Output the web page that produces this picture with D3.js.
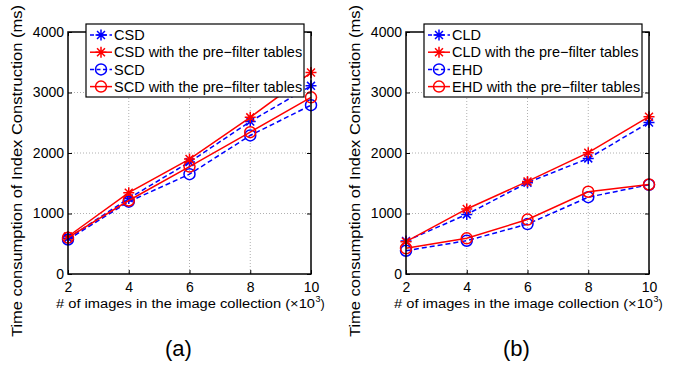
<!DOCTYPE html>
<html>
<head>
<meta charset="utf-8">
<script src="https://cdn.jsdelivr.net/npm/d3@7"></script>
<style>
  body { margin: 0; background: #fff; }
  svg { display: block; font-family: "Liberation Sans", Arial, sans-serif; }
  .grid line { stroke: #b0b0b0; stroke-dasharray: 1,2; }
</style>
</head>
<body>
<svg id="chart" width="674" height="368"></svg>
<script>
// x values (x10^3 images)
const imageCounts = [2, 4, 6, 8, 10];
const xTicks = [2, 4, 6, 8, 10];
const yTicks = [0, 1000, 2000, 3000, 4000];

// panel (a)
const csd = [590, 1250, 1850, 2520, 3110];
const csdPre = [620, 1345, 1900, 2590, 3330];
const scd = [570, 1195, 1650, 2290, 2790];
const scdPre = [600, 1215, 1775, 2345, 2920];

// panel (b)
const cld = [545, 985, 1510, 1910, 2505];
const cldPre = [535, 1075, 1530, 2005, 2600];
const ehd = [385, 550, 825, 1270, 1475];
const ehdPre = [425, 590, 900, 1360, 1480];

const panels = [
    {left: 68, tag: "(a)", series: [
        {name: "CSD", values: csd, color: "#0000ff", dash: "5,3", marker: "star"},
        {name: "CSD with the pre\u2212filter tables", values: csdPre, color: "#ff0000", dash: null, marker: "star"},
        {name: "SCD", values: scd, color: "#0000ff", dash: "5,3", marker: "circle"},
        {name: "SCD with the pre\u2212filter tables", values: scdPre, color: "#ff0000", dash: null, marker: "circle"}
    ]},
    {left: 406, tag: "(b)", series: [
        {name: "CLD", values: cld, color: "#0000ff", dash: "5,3", marker: "star"},
        {name: "CLD with the pre\u2212filter tables", values: cldPre, color: "#ff0000", dash: null, marker: "star"},
        {name: "EHD", values: ehd, color: "#0000ff", dash: "5,3", marker: "circle"},
        {name: "EHD with the pre\u2212filter tables", values: ehdPre, color: "#ff0000", dash: null, marker: "circle"}
    ]}
];

const svg = d3.select("#chart");
const plotW = 243, plotTop = 32, plotBottom = 274;

function drawMarker(g, type, x, y, color) {
    if (type === "circle") {
        g.append("circle").attr("cx", x).attr("cy", y).attr("r", 5.5)
            .attr("fill", "none").attr("stroke", color).attr("stroke-width", 1.5);
    } else {
        let r = 5.5, d = r * 0.72;
        g.append("path")
            .attr("d", `M${x - r},${y}H${x + r}M${x},${y - r}V${y + r}` +
                `M${x - d},${y - d}L${x + d},${y + d}M${x - d},${y + d}L${x + d},${y - d}`)
            .attr("stroke", color).attr("stroke-width", 1.5);
    }
}

function styleTicks(a) {
    a.attr("font-family", null);
    a.select(".domain").remove();
    a.selectAll("text").attr("font-size", 14).attr("fill", "#000");
}

panels.forEach(function (p) {
    const x = d3.scaleLinear().domain([2, 10]).range([p.left, p.left + plotW]);
    const y = d3.scaleLinear().domain([0, 4000]).range([plotBottom, plotTop]);
    const g = svg.append("g");

    // dotted grid
    const grid = g.append("g").attr("class", "grid");
    grid.selectAll(".gx").data(xTicks.slice(1, -1)).enter().append("line")
        .attr("x1", d => x(d)).attr("x2", d => x(d)).attr("y1", plotTop).attr("y2", plotBottom);
    grid.selectAll(".gy").data(yTicks.slice(1, -1)).enter().append("line")
        .attr("x1", p.left).attr("x2", p.left + plotW).attr("y1", d => y(d)).attr("y2", d => y(d));

    // lines and markers
    const line = d3.line().x((d, i) => x(imageCounts[i])).y(d => y(d));
    p.series.forEach(function (s) {
        g.append("path").datum(s.values).attr("d", line)
            .attr("fill", "none").attr("stroke", s.color).attr("stroke-width", 1.5)
            .attr("stroke-dasharray", s.dash);
        s.values.forEach(function (v, i) {
            drawMarker(g, s.marker, x(imageCounts[i]), y(v), s.color);
        });
    });

    // axes with inward ticks
    g.append("g").attr("transform", `translate(0,${plotBottom})`)
        .call(d3.axisBottom(x).tickValues(xTicks).tickFormat(d3.format("d"))
            .tickSizeInner(-4).tickSizeOuter(0).tickPadding(8))
        .call(styleTicks);
    g.append("g").attr("transform", `translate(0,${plotTop})`)
        .call(d3.axisTop(x).tickValues(xTicks).tickSizeInner(-4).tickSizeOuter(0).tickFormat(""))
        .call(styleTicks);
    g.append("g").attr("transform", `translate(${p.left},0)`)
        .call(d3.axisLeft(y).tickValues(yTicks).tickFormat(d3.format("d"))
            .tickSizeInner(-4).tickSizeOuter(0).tickPadding(4))
        .call(styleTicks);
    g.append("g").attr("transform", `translate(${p.left + plotW},0)`)
        .call(d3.axisRight(y).tickValues(yTicks).tickSizeInner(-4).tickSizeOuter(0).tickFormat(""))
        .call(styleTicks);
    g.append("rect").attr("x", p.left).attr("y", plotTop).attr("width", plotW).attr("height", plotBottom - plotTop)
        .attr("fill", "none").attr("stroke", "#000").attr("stroke-width", 1.5);

    // legend
    const lg = g.append("g").attr("transform", `translate(${p.left + 18},24)`);
    lg.append("rect").attr("width", 218).attr("height", 73)
        .attr("fill", "#fff").attr("stroke", "#000").attr("stroke-width", 1.2);
    p.series.forEach(function (s, i) {
        const ly = 11 + i * 17.2;
        lg.append("line").attr("x1", 4).attr("x2", 26).attr("y1", ly).attr("y2", ly)
            .attr("stroke", s.color).attr("stroke-width", 1.5).attr("stroke-dasharray", s.dash ? "4,2.5" : null);
        drawMarker(lg, s.marker, 15, ly, s.color);
        lg.append("text").attr("x", 28).attr("y", ly).attr("dy", "0.36em")
            .attr("font-size", 14.5).text(s.name);
    });

    // x axis title with superscript
    const xStart = p.left - 12;
    g.append("text").attr("x", xStart).attr("y", 308).attr("font-size", 12.5)
        .attr("textLength", 259).attr("lengthAdjust", "spacingAndGlyphs")
        .text("# of images in the image collection (\u00d710");
    g.append("text").attr("x", xStart + 259.5).attr("y", 302).attr("font-size", 9).text("3");
    g.append("text").attr("x", xStart + 264.5).attr("y", 308).attr("font-size", 12.5).text(")");

    // y axis title
    g.append("text").attr("transform", `translate(${p.left - 46},171) rotate(-90)`)
        .attr("text-anchor", "middle").attr("font-size", 15)
        .attr("textLength", 332).attr("lengthAdjust", "spacingAndGlyphs")
        .text("Time consumption of Index Construction (ms)");

    g.append("text").attr("x", p.left + plotW / 2 - 11).attr("y", 356)
        .attr("text-anchor", "middle").attr("font-size", 22).text(p.tag);
});
</script>
</body>
</html>
